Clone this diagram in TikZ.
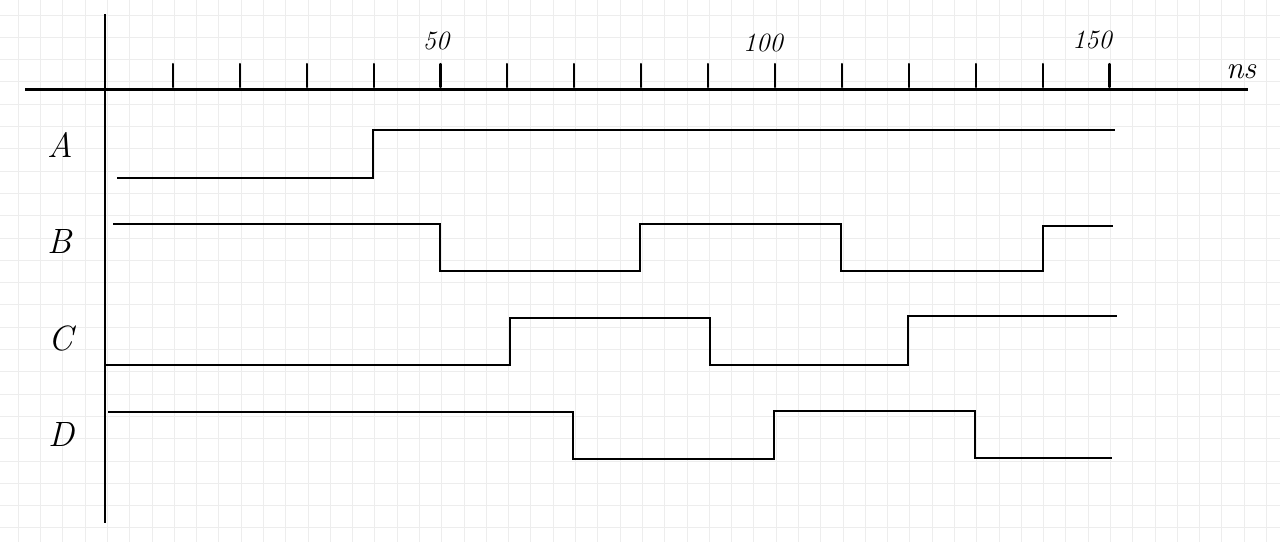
\documentclass[tikz,border=0pt]{standalone}
\usepackage{fontspec}
\begin{document}
\begin{tikzpicture}[x=0.02cm,y=-0.02cm,
  gridline/.style={draw=black!7,line width=0.55pt},
  axis/.style={draw=black,line width=1.7pt},
  tickmark/.style={draw=black,line width=1.2pt,line cap=round},
  signal/.style={draw=black,line width=1.45pt,line join=miter},
  siglabel/.style={font=\itshape\fontsize{20}{22}\selectfont,inner sep=0pt},
  numlabel/.style={font=\itshape\fontsize{15}{17}\selectfont,inner sep=0pt}]
\useasboundingbox (0,0) rectangle (1280,542);
\fill[white] (0,0) rectangle (1280,542);
% grid
\foreach \k in {0,...,56} {\draw[gridline] ({18.3+22.29*\k},0) -- ({18.3+22.29*\k},542);}
\foreach \k in {0,...,23} {\draw[gridline] (0,{15+22.3*\k}) -- (1280,{15+22.3*\k});}
% axes
\coordinate (xa0) at (25,89); \coordinate (xa1) at (1248,89);
\coordinate (ya0) at (105,14); \coordinate (ya1) at (105,523);
\draw[axis] (xa0) -- (xa1);
\draw[axis] (ya0) -- (ya1);
% ticks
\foreach \k in {1,...,15} {\draw[tickmark] ({106+66.9*\k},64) -- ({106+66.9*\k},87);}
% axis labels
\node[numlabel] (l50) at (436,41) {50};
\node[numlabel] (l100) at (763,43) {100};
\node[numlabel] (l150) at (1092,40) {150};
\node[numlabel,font=\itshape\fontsize{18}{20}\selectfont] (ns) at (1241,72) {ns};
% signal names
\node[siglabel] (A) at (60,145) {A};
\node[siglabel] (B) at (60,241) {B};
\node[siglabel] (C) at (61,338) {C};
\node[siglabel] (D) at (61,434) {D};
% waveforms
\draw[signal] (117,178) -- (373,178) -- (373,130) -- (1115,130);
\draw[signal] (113,224) -- (440,224) -- (440,271) -- (640,271) -- (640,224) -- (841,224) -- (841,271) -- (1043,271) -- (1043,226) -- (1113,226);
\draw[signal] (105,365) -- (510,365) -- (510,318) -- (710,318) -- (710,365) -- (908,365) -- (908,316) -- (1117,316);
\draw[signal] (108,412) -- (573,412) -- (573,459) -- (774,459) -- (774,411) -- (975,411) -- (975,458) -- (1112,458);
\end{tikzpicture}
\end{document}
